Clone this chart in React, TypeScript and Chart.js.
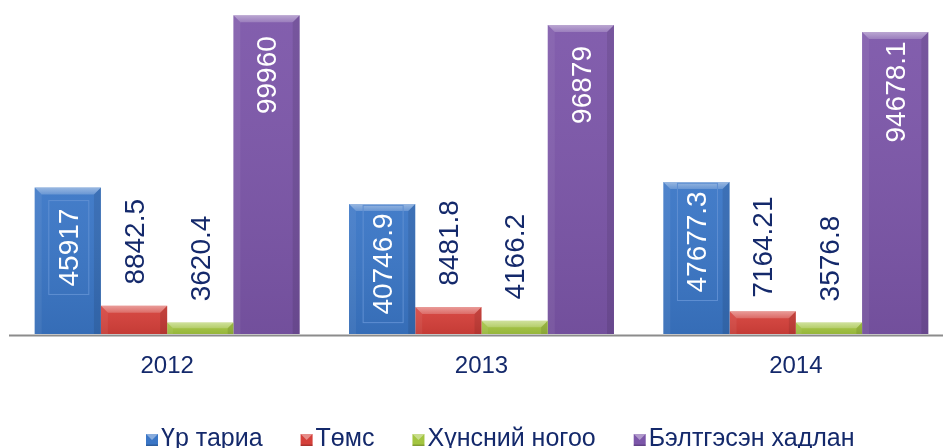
import React, { useEffect, useRef } from 'react';
import { Chart, registerables } from 'chart.js';

Chart.register(...registerables);

const categories = ['2012', '2013', '2014'];
const seriesNames = ['Үр тариа', 'Төмс', 'Хүнсний ногоо', 'Бэлтгэсэн хадлан'];
const grain = [45917, 40746.9, 47677.3];
const potato = [8842.5, 8481.8, 7164.21];
const vegetables = [3620.4, 4166.2, 3576.8];
const hay = [99960, 96879, 94678.1];
const seriesValues = [grain, potato, vegetables, hay];

const seriesColors = ['#3a76c6', '#d5403a', '#a3c540', '#7c56a9'];
const labelInside = [true, false, false, true];
const labelBoxed = [true, false, false, false];
const NAVY = '#14296b';
const FONT = "'Liberation Sans', Arial, sans-serif";

const bevelPlugin = {
  id: 'bevelLabels',
  beforeDatasetsDraw(chart: any) {
    const ctx = chart.ctx;
    const ys = chart.scales.y;
    const y0 = ys.getPixelForValue(0);
    ctx.save();
    ctx.strokeStyle = '#8c8c8c';
    ctx.lineWidth = 2;
    ctx.beginPath();
    ctx.moveTo(9, y0 + 1.5);
    ctx.lineTo(chart.width, y0 + 1.5);
    ctx.stroke();
    ctx.restore();
  },
  afterDatasetsDraw(chart: any) {
    const ctx = chart.ctx;
    chart.data.datasets.forEach((ds: any, di: number) => {
      const meta = chart.getDatasetMeta(di);
      meta.data.forEach((bar: any) => {
        const { x, y, base, width } = bar.getProps(['x', 'y', 'base', 'width'], true);
        const l = x - width / 2;
        const r = x + width / 2;
        const t = Math.min(y, base);
        const b = Math.max(y, base);
        const h = b - t;
        const bv = Math.min(7, h / 2);
        ctx.save();
        const g = ctx.createLinearGradient(0, t, 0, b);
        g.addColorStop(0, 'rgba(255,255,255,0.05)');
        g.addColorStop(1, 'rgba(0,0,0,0.08)');
        ctx.fillStyle = g;
        ctx.fillRect(l, t, width, h);
        ctx.fillStyle = 'rgba(255,255,255,0.06)';
        ctx.beginPath();
        ctx.moveTo(l, t);
        ctx.lineTo(l + bv, t + bv);
        ctx.lineTo(l + bv, b);
        ctx.lineTo(l, b);
        ctx.closePath();
        ctx.fill();
        ctx.fillStyle = 'rgba(0,0,0,0.09)';
        ctx.beginPath();
        ctx.moveTo(r, t);
        ctx.lineTo(r - bv, t + bv);
        ctx.lineTo(r - bv, b);
        ctx.lineTo(r, b);
        ctx.closePath();
        ctx.fill();
        const tg = ctx.createLinearGradient(0, t, 0, t + bv);
        tg.addColorStop(0, 'rgba(255,255,255,0.45)');
        tg.addColorStop(1, 'rgba(255,255,255,0.2)');
        ctx.fillStyle = tg;
        ctx.beginPath();
        ctx.moveTo(l, t);
        ctx.lineTo(r, t);
        ctx.lineTo(r - bv, t + bv);
        ctx.lineTo(l + bv, t + bv);
        ctx.closePath();
        ctx.fill();
        ctx.restore();
      });
    });
  },
  afterDraw(chart: any) {
    const ctx = chart.ctx;
    chart.data.datasets.forEach((ds: any, di: number) => {
      const meta = chart.getDatasetMeta(di);
      meta.data.forEach((bar: any, i: number) => {
        const { x, y } = bar.getProps(['x', 'y'], true);
        const text = String(ds.data[i]);
        ctx.save();
        ctx.font = `28px ${FONT}`;
        const tw = ctx.measureText(text).width;
        const cy = labelInside[di] ? y + 60 : y - 64;
        ctx.translate(x + 1, cy);
        ctx.rotate(-Math.PI / 2);
        if (labelBoxed[di]) {
          ctx.strokeStyle = '#5f8fd2';
          ctx.lineWidth = 1;
          ctx.strokeRect(-tw / 2 - 8, -20, tw + 16, 40);
        }
        ctx.fillStyle = labelInside[di] ? '#ffffff' : NAVY;
        ctx.textAlign = 'center';
        ctx.textBaseline = 'middle';
        ctx.fillText(text, 0, 1);
        ctx.restore();
      });
    });
    ctx.save();
    ctx.font = `25px ${FONT}`;
    let lx = 146;
    const my = 434;
    seriesNames.forEach((name, i) => {
      const s = 12;
      ctx.fillStyle = seriesColors[i];
      ctx.fillRect(lx, my, s, s);
      ctx.fillStyle = 'rgba(255,255,255,0.4)';
      ctx.beginPath();
      ctx.moveTo(lx, my);
      ctx.lineTo(lx + s, my);
      ctx.lineTo(lx + s / 2, my + s / 2);
      ctx.closePath();
      ctx.fill();
      ctx.fillStyle = 'rgba(0,0,0,0.2)';
      ctx.fillRect(lx, my + s - 1.5, s, 1.5);
      ctx.fillStyle = NAVY;
      ctx.textAlign = 'left';
      ctx.textBaseline = 'alphabetic';
      ctx.fillText(name, lx + s + 3, 446);
      lx += s + 3 + ctx.measureText(name).width + 38;
    });
    ctx.restore();
  },
};

export default function App() {
  const ref = useRef<HTMLCanvasElement | null>(null);
  useEffect(() => {
    if (!ref.current) return;
    const chart = new Chart(ref.current, {
      type: 'bar',
      data: {
        labels: categories,
        datasets: seriesNames.map((name, i) => ({
          label: name,
          data: seriesValues[i],
          backgroundColor: seriesColors[i],
          borderWidth: 0,
          categoryPercentage: 0.843,
          barPercentage: 1,
        })),
      },
      options: {
        responsive: false,
        animation: false,
        devicePixelRatio: 1,
        layout: { padding: { left: 10, right: 2, top: 15, bottom: 0 } },
        plugins: {
          legend: { display: false },
          tooltip: { enabled: false },
        },
        scales: {
          x: {
            grid: { display: false },
            border: { display: false },
            ticks: {
              color: NAVY,
              font: { family: FONT, size: 24 },
              padding: 10,
            },
            afterFit: (scale: any) => {
              scale.height = 114;
            },
          },
          y: {
            display: false,
            min: 0,
            max: 100000,
          },
        },
      },
      plugins: [bevelPlugin],
    });
    return () => chart.destroy();
  }, []);
  return (
    <div
      style={{
        position: 'fixed',
        left: 0,
        top: 0,
        width: 943,
        height: 448,
        overflow: 'hidden',
        background: '#ffffff',
      }}
    >
      <canvas ref={ref} width={955} height={448} style={{ display: 'block' }} />
    </div>
  );
}
